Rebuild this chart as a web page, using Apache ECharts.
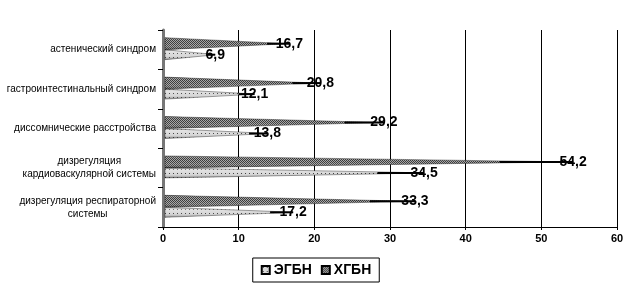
<!DOCTYPE html>
<html>
<head>
<meta charset="utf-8">
<style>
  html, body { margin: 0; padding: 0; background: #fff; }
  #chart { width: 632px; height: 294px; }
</style>
<script src="https://cdn.jsdelivr.net/npm/echarts@6/dist/echarts.min.js"></script>
</head>
<body>
<div id="chart"></div>
<script>
const categories = [
  'астенический синдром',
  'гастроинтестинальный синдром',
  'диссомнические расстройства',
  'дизрегуляция\nкардиоваскулярной системы',
  'дизрегуляция респираторной\nсистемы'
]
const egbn = [6.9, 12.1, 13.8, 34.5, 17.2]
const hgbn = [16.7, 20.8, 29.2, 54.2, 33.3]
const xTicks = [0, 10, 20, 30, 40, 50, 60]

// small canvas tiles for the excel-like fills
function makeTile(size, draw) {
  const c = document.createElement('canvas')
  c.width = size
  c.height = size
  draw(c.getContext('2d'))
  return c
}
const hatchTile = makeTile(2, ctx => {
  ctx.fillStyle = '#a8a8a8'
  ctx.fillRect(0, 0, 2, 2)
  ctx.fillStyle = '#3c3c3c'
  ctx.fillRect(0, 0, 1, 1)
  ctx.fillRect(1, 1, 1, 1)
})
const dotTile = makeTile(4, ctx => {
  ctx.fillStyle = '#d8d8d8'
  ctx.fillRect(0, 0, 4, 4)
  ctx.fillStyle = '#404040'
  ctx.fillRect(1, 1, 1, 1)
})
const hatchFill = { image: hatchTile, repeat: 'repeat' }
const dotFill = { image: dotTile, repeat: 'repeat' }

function shade(dark) {
  return {
    type: 'linear', x: 0, y: 0, x2: 0, y2: 1,
    colorStops: [
      { offset: 0, color: 'rgba(0,0,0,0.6)' },
      { offset: 0.18, color: 'rgba(255,255,255,' + (dark ? 0 : 0.3) + ')' },
      { offset: 0.55, color: 'rgba(255,255,255,0)' },
      { offset: 1, color: 'rgba(0,0,0,0.45)' }
    ]
  }
}

function cone(offset, h, fill, dark) {
  return function (params, api) {
    const cat = api.value(0)
    const val = api.value(1)
    const base = api.coord([0, cat])
    const tip = api.coord([val, cat])
    const y = base[1] + offset
    const x0 = base[0] + 2
    const x1 = tip[0]
    const xm = x0 + (x1 - x0) * 0.82
    const pts = [[x0, y - h / 2], [xm, y - 1], [x1, y], [xm, y + 1], [x0, y + h / 2]]
    return {
      type: 'group',
      children: [
        { type: 'polygon', shape: { points: pts }, style: { fill: fill } },
        { type: 'polygon', shape: { points: pts }, style: { fill: shade(dark), stroke: 'rgba(0,0,0,0.6)', lineWidth: 0.6 } },
        {
          type: 'line',
          shape: { x1: xm, y1: y, x2: x1, y2: y },
          style: { stroke: '#000', lineWidth: 2 }
        },
        {
          type: 'text',
          x: x1,
          y: y,
          style: {
            text: String(val).replace('.', ','),
            font: 'bold 14px Arial',
            fill: '#000',
            textAlign: 'center',
            textVerticalAlign: 'middle'
          }
        }
      ]
    }
  }
}

const chart = echarts.init(document.getElementById('chart'))
chart.setOption({
  backgroundColor: '#fff',
  animation: false,
  grid: { left: 163, right: 15, top: 30, bottom: 67, outerBoundsMode: 'none', containLabel: false },
  legend: {
    left: 'center',
    top: 258,
    data: ['ЭГБН', 'ХГБН'],
    icon: 'rect',
    itemWidth: 8,
    itemHeight: 8,
    itemGap: 9,
    padding: [5, 8],
    borderColor: '#000',
    borderWidth: 1,
    borderRadius: 0,
    textStyle: { fontFamily: 'Arial', fontWeight: 'bold', fontSize: 14, color: '#000', padding: [0, 0, 0, -1] }
  },
  xAxis: {
    type: 'value',
    min: 0,
    max: 60,
    interval: 10,
    axisLine: { show: true, lineStyle: { color: '#000', width: 1 } },
    axisTick: { show: true, length: 3, lineStyle: { color: '#000' } },
    axisLabel: {
      margin: 6,
      fontFamily: 'Arial',
      fontWeight: 'bold',
      fontSize: 11,
      color: '#000',
      formatter: v => xTicks.includes(v) ? String(v) : ''
    },
    splitLine: { show: true, lineStyle: { color: '#000', width: 1 } }
  },
  yAxis: {
    type: 'category',
    inverse: true,
    data: categories,
    axisLine: { show: true, lineStyle: { color: '#777', width: 3 } },
    axisTick: { show: true, length: 5, lineStyle: { color: '#000' } },
    axisLabel: {
      margin: 7,
      fontFamily: 'Arial',
      fontSize: 10,
      color: '#000',
      lineHeight: 13,
      formatter: v => v.split('\n').map(s => '{c|' + s + '}').join('\n'),
      rich: { c: { align: 'center', fontFamily: 'Arial', fontSize: 10, color: '#000', lineHeight: 13 } }
    }
  },
  series: [
    {
      name: 'ХГБН',
      type: 'custom',
      itemStyle: { color: hatchFill, borderColor: '#000', borderWidth: 1 },
      encode: { x: 1, y: 0 },
      renderItem: cone(-6, 12, hatchFill, true),
      data: hgbn.map((v, i) => [i, v])
    },
    {
      name: 'ЭГБН',
      type: 'custom',
      itemStyle: { color: dotFill, borderColor: '#000', borderWidth: 1 },
      encode: { x: 1, y: 0 },
      renderItem: cone(5, 10, dotFill, false),
      data: egbn.map((v, i) => [i, v])
    }
  ]
})
</script>
</body>
</html>
